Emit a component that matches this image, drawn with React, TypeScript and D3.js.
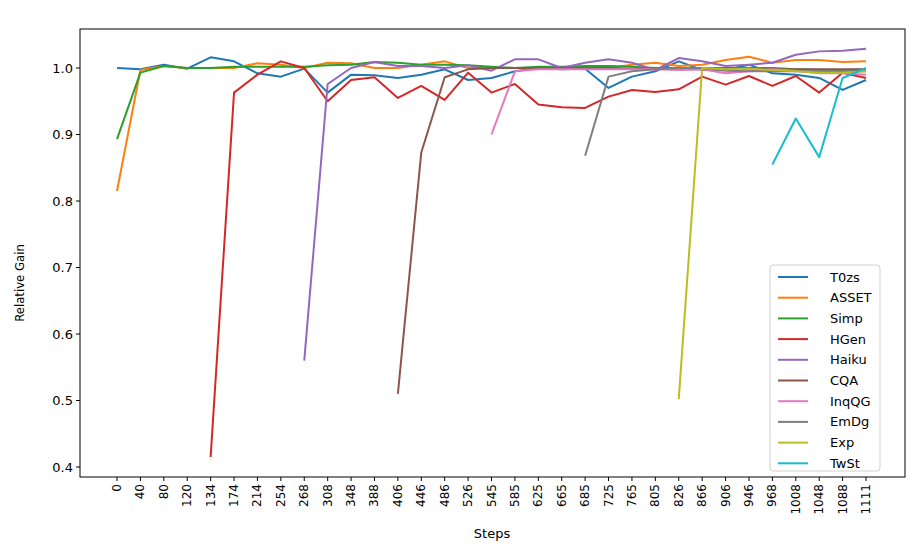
import React from "react";
import * as d3 from "d3";

const steps = ["0","40","80","120","134","174","214","254","268","308","348","388","406","446","486","526","545","585","625","665","685","725","765","805","826","866","906","946","968","1008","1048","1088","1111"];
const N = null;
const T0zs = [1.0,0.998,1.005,0.999,1.016,1.010,0.992,0.987,0.999,0.963,0.990,0.989,0.985,0.990,0.998,0.982,0.985,0.995,1.0,0.998,0.999,0.970,0.987,0.995,1.010,0.997,0.997,1.005,0.992,0.990,0.985,0.967,0.982];
const ASSET = [0.815,0.997,1.003,1.0,1.0,1.0,1.007,1.005,1.0,1.008,1.007,1.0,1.0,1.005,1.010,1.0,1.0,1.0,1.0,1.0,1.0,1.0,1.005,1.008,1.003,1.005,1.012,1.017,1.008,1.012,1.012,1.009,1.010];
const Simp = [0.893,0.993,1.003,1.0,1.0,1.002,1.002,1.002,1.002,1.004,1.005,1.009,1.008,1.005,1.005,1.004,1.002,1.0,1.002,1.002,1.003,1.003,1.002,1.0,1.0,1.0,1.0,1.0,1.0,0.998,0.997,0.996,0.998];
const HGen = [N,N,N,N,0.415,0.963,0.990,1.010,1.0,0.950,0.982,0.986,0.955,0.973,0.952,0.993,0.963,0.976,0.945,0.941,0.940,0.957,0.967,0.964,0.968,0.987,0.975,0.988,0.973,0.988,0.963,0.993,0.985];
const Haiku = [N,N,N,N,N,N,N,N,0.560,0.976,1.0,1.009,1.003,1.003,1.0,1.004,0.996,1.013,1.013,1.0,1.008,1.013,1.008,0.997,1.015,1.010,1.003,1.005,1.008,1.020,1.025,1.026,1.029];
const CQA = [N,N,N,N,N,N,N,N,N,N,N,N,0.510,0.873,0.986,0.998,1.0,1.0,1.0,1.0,1.0,1.0,0.999,0.999,0.998,0.998,0.998,0.998,0.998,0.998,0.998,0.998,0.998];
const InqQG = [N,N,N,N,N,N,N,N,N,N,N,N,N,N,N,N,0.900,0.995,0.998,0.998,0.998,0.998,0.998,0.998,0.997,0.998,0.992,0.995,0.998,0.996,0.992,0.992,0.990];
const EmDg = [N,N,N,N,N,N,N,N,N,N,N,N,N,N,N,N,N,N,N,N,0.868,0.987,0.995,0.998,1.0,1.0,0.996,0.995,0.995,0.995,0.995,0.995,0.995];
const Exp = [N,N,N,N,N,N,N,N,N,N,N,N,N,N,N,N,N,N,N,N,N,N,N,N,0.502,1.0,0.998,0.999,0.997,0.995,0.993,0.993,0.995];
const TwSt = [N,N,N,N,N,N,N,N,N,N,N,N,N,N,N,N,N,N,N,N,N,N,N,N,N,N,N,N,0.855,0.924,0.866,0.985,1.0];

const series = [
  { name: "T0zs", data: T0zs, color: "#1f77b4" },
  { name: "ASSET", data: ASSET, color: "#ff7f0e" },
  { name: "Simp", data: Simp, color: "#2ca02c" },
  { name: "HGen", data: HGen, color: "#d62728" },
  { name: "Haiku", data: Haiku, color: "#9467bd" },
  { name: "CQA", data: CQA, color: "#8c564b" },
  { name: "InqQG", data: InqQG, color: "#e377c2" },
  { name: "EmDg", data: EmDg, color: "#7f7f7f" },
  { name: "Exp", data: Exp, color: "#bcbd22" },
  { name: "TwSt", data: TwSt, color: "#17becf" },
];
const yTicks = [0.4, 0.5, 0.6, 0.7, 0.8, 0.9, 1.0];

export default function App() {
  const L = 80, R = 905, T = 29, B = 477;
  const x = d3.scalePoint<string>().domain(steps).range([117, 866]);
  const y = d3.scaleLinear().domain([0.4, 1.0]).range([467, 68]);
  const line = d3.line<number | null>()
    .defined((d) => d != null)
    .x((_, i) => x(steps[i])!)
    .y((d) => y(d as number));
  const font = "DejaVu Sans, sans-serif";
  return (
    <svg width={920} height={551} style={{ position: "absolute", left: 0, top: 0 }} fontFamily={font}>
      <rect width={920} height={551} fill="#fff" />
      {series.map((s) => (
        <path key={s.name} d={line(s.data) || ""} fill="none" stroke={s.color} strokeWidth={2} strokeLinejoin="round" />
      ))}
      <rect x={L} y={T} width={R - L} height={B - T} fill="none" stroke="#000" strokeWidth={1} />
      {yTicks.map((t) => (
        <g key={t}>
          <line x1={L - 4} x2={L} y1={y(t)} y2={y(t)} stroke="#000" />
          <text x={L - 7} y={y(t)} dy="0.35em" textAnchor="end" fontSize={13}>{t.toFixed(1)}</text>
        </g>
      ))}
      {steps.map((s) => (
        <g key={s}>
          <line x1={x(s)} x2={x(s)} y1={B} y2={B + 4} stroke="#000" />
          <text transform={`translate(${x(s)! + 4},${B + 7}) rotate(-90)`} textAnchor="end" fontSize={12}>{s}</text>
        </g>
      ))}
      <text transform={`translate(24,${(T + B) / 2 + 30}) rotate(-90)`} textAnchor="middle" fontSize={13} fontFamily="DejaVu Sans Condensed, sans-serif">Relative Gain</text>
      <text x={492} y={538} textAnchor="middle" fontSize={13}>Steps</text>
      <g transform="translate(770,265)">
        <rect width={110} height={206} rx={3} fill="#fff" stroke="#ccc" opacity={0.9} />
        {series.map((s, i) => (
          <g key={s.name} transform={`translate(8,${12 + i * 20.7})`}>
            <line x1={0} x2={30} y1={0} y2={0} stroke={s.color} strokeWidth={2} />
            <text x={52} y={0} dy="0.35em" fontSize={13}>{s.name}</text>
          </g>
        ))}
      </g>
    </svg>
  );
}
